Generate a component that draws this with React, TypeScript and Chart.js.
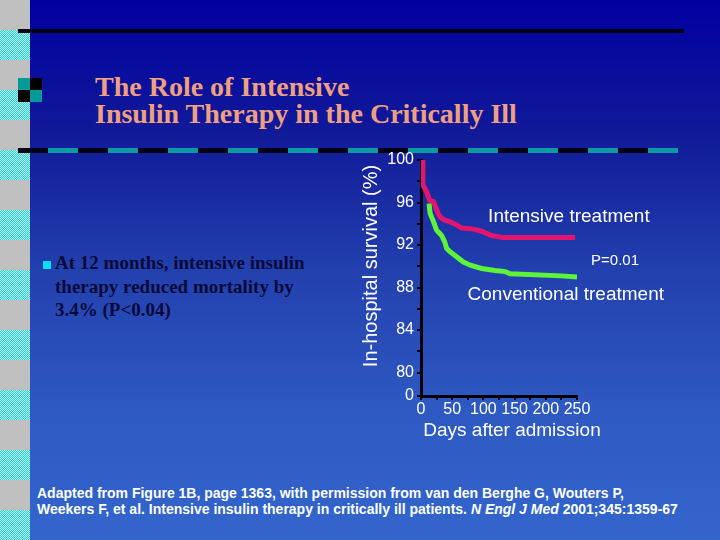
import React, { useEffect, useRef } from "react";
import { Chart, registerables } from "chart.js";

Chart.register(...registerables);

// ---- data ----
const intensiveDays = [2, 3, 9, 14, 20, 25, 30, 36, 46, 57, 65, 84, 97, 113, 132, 247];
const intensiveSurvival = [100, 97.65, 97.0, 96.2, 96.1, 95.3, 94.7, 94.4, 94.2, 93.9, 93.6, 93.5, 93.3, 92.9, 92.7, 92.7];
const conventionalDays = [13, 14.5, 20, 25, 33, 38, 41, 46, 57, 68, 79, 97, 119, 135, 143, 225, 250];
const conventionalSurvival = [95.9, 95.0, 94.2, 93.4, 92.9, 92.3, 91.7, 91.4, 90.9, 90.4, 90.1, 89.8, 89.6, 89.5, 89.3, 89.1, 89.0];

const yMajorTicks = [80, 84, 88, 92, 96, 100];
const yMinorTicks = [82, 86, 90, 94, 98];
const yBreakValue = 77.8; // position of the "0" label below the axis break
const yBreakLabel = "0";
const xTicks = [0, 50, 100, 150, 200, 250];
const xMinorTicks = [25, 75, 125, 175, 225];

const annotations = [
  { text: "Intensive treatment", day: 237, value: 94.7, size: 19 },
  { text: "P=0.01", day: 311, value: 90.5, size: 15 },
  { text: "Conventional treatment", day: 232, value: 87.3, size: 19 },
];
const xTitle = "Days after admission";
const yTitle = "In-hospital survival (%)";

const FONT = '"Liberation Sans", Arial, sans-serif';

const textPlugin = {
  id: "slideText",
  afterDraw(chart: any) {
    const { ctx, chartArea } = chart;
    const x = chart.scales.x;
    const y = chart.scales.y;
    ctx.save();
    ctx.fillStyle = "#ffffff";
    ctx.textAlign = "center";
    ctx.textBaseline = "middle";
    for (const a of annotations) {
      ctx.font = `${a.size}px ${FONT}`;
      ctx.fillText(a.text, x.getPixelForValue(a.day), y.getPixelForValue(a.value));
    }
    ctx.font = `19px ${FONT}`;
    ctx.fillText(xTitle, chartArea.left + 91, chartArea.bottom + 35);
    ctx.translate(chartArea.left - 50, chartArea.top + 106);
    ctx.rotate(-Math.PI / 2);
    ctx.font = `20px ${FONT}`;
    ctx.fillText(yTitle, 0, 0);
    ctx.restore();
  },
};

function SurvivalChart() {
  const ref = useRef<HTMLCanvasElement | null>(null);
  useEffect(() => {
    if (!ref.current) return;
    const chart = new Chart(ref.current, {
      type: "line",
      data: {
        datasets: [
          {
            label: "Intensive treatment",
            data: intensiveDays.map((d, i) => ({ x: d, y: intensiveSurvival[i] })),
            borderColor: "#e4156c",
            borderWidth: 5,
            pointRadius: 0,
            tension: 0,
            order: 0,
          },
          {
            label: "Conventional treatment",
            data: conventionalDays.map((d, i) => ({ x: d, y: conventionalSurvival[i] })),
            borderColor: "#5cf53a",
            borderWidth: 5,
            pointRadius: 0,
            tension: 0,
            order: 1,
          },
        ],
      },
      options: {
        animation: false,
        responsive: false,
        devicePixelRatio: 1,
        layout: { padding: { top: 20, right: 143, left: 0, bottom: 0 } },
        plugins: { legend: { display: false }, tooltip: { enabled: false } },
        scales: {
          x: {
            type: "linear",
            min: 0,
            max: 250,
            afterBuildTicks: (s: any) => {
              s.ticks = [...xTicks, ...xMinorTicks].sort((a, b) => a - b).map((v) => ({ value: v }));
            },
            afterFit: (s: any) => {
              s.height = 54;
            },
            ticks: {
              color: "#ffffff",
              font: { family: FONT, size: 16 },
              padding: 0,
              maxRotation: 0,
              autoSkip: false,
              callback: (v: any) => (xTicks.includes(Number(v)) ? String(v) : ""),
            },
            grid: { drawOnChartArea: false, color: "#000000", tickLength: 4, lineWidth: 2 },
            border: { color: "#000000", width: 3 },
          },
          y: {
            type: "linear",
            min: yBreakValue,
            max: 100,
            afterBuildTicks: (s: any) => {
              s.ticks = [yBreakValue, ...yMajorTicks, ...yMinorTicks].sort((a, b) => a - b).map((v) => ({ value: v }));
            },
            afterFit: (s: any) => {
              s.width = 81;
            },
            ticks: {
              color: "#ffffff",
              font: { family: FONT, size: 16 },
              padding: 3,
              autoSkip: false,
              callback: (v: any) => {
                const n = Number(v);
                if (n === yBreakValue) return yBreakLabel;
                return yMajorTicks.includes(n) ? String(n) : "";
              },
            },
            grid: { drawOnChartArea: false, color: "#000000", tickLength: 4, lineWidth: 2 },
            border: { color: "#000000", width: 3 },
          },
        },
      },
      plugins: [textPlugin],
    } as any);
    return () => chart.destroy();
  }, []);
  return (
    <canvas
      ref={ref}
      width={380}
      height={310}
      style={{ position: "absolute", left: 340, top: 140, width: 380, height: 310 }}
    />
  );
}

const stripBands = [0, 1, 2, 3, 4, 5, 6, 7, 8];
const dashSegments = Array.from({ length: 22 }, (_, i) => i);

export default function App() {
  return (
    <div
      style={{
        position: "fixed",
        left: 0,
        top: 0,
        width: 720,
        height: 540,
        overflow: "hidden",
        background:
          "linear-gradient(to bottom, #0000a0 0%, #111a98 25%, #2240ae 50%, #2e58c2 75%, #3366cc 100%)",
      }}
    >
      {/* left strip */}
      {stripBands.map((b) => (
        <React.Fragment key={b}>
          <div style={{ position: "absolute", left: 0, top: b * 60, width: 30, height: 30, background: "#c0c0c0" }} />
          <div
            style={{
              position: "absolute",
              left: 0,
              top: b * 60 + 30,
              width: 30,
              height: 30,
              backgroundImage: "repeating-conic-gradient(#33cccc 0 25%, #b0f4f4 0 50%)",
              backgroundSize: "2px 2px",
            }}
          />
        </React.Fragment>
      ))}
      {/* top rule */}
      <div style={{ position: "absolute", left: 18, top: 29, width: 666, height: 4, background: "#000010" }} />
      {/* icon */}
      <div style={{ position: "absolute", left: 18, top: 78, width: 12, height: 12, background: "#009a9a" }} />
      <div style={{ position: "absolute", left: 30, top: 78, width: 12, height: 12, background: "#000000" }} />
      <div style={{ position: "absolute", left: 18, top: 90, width: 12, height: 12, background: "#000000" }} />
      <div style={{ position: "absolute", left: 30, top: 90, width: 12, height: 12, background: "#009a9a" }} />
      {/* dashed rule */}
      {dashSegments.map((i) => (
        <div
          key={i}
          style={{
            position: "absolute",
            left: 18 + i * 30,
            top: 148,
            width: 30,
            height: 5,
            background: i % 2 === 0 ? "#000018" : "#0a9aa6",
          }}
        />
      ))}
      {/* title */}
      <div
        style={{
          position: "absolute",
          left: 95,
          top: 74,
          fontFamily: '"Liberation Serif", "Times New Roman", serif',
          fontWeight: "bold",
          fontSize: 28,
          lineHeight: "26.7px",
          color: "#f0a080",
          whiteSpace: "nowrap",
        }}
      >
        The Role of Intensive
        <br />
        Insulin Therapy in the Critically Ill
      </div>
      {/* bullet */}
      <div style={{ position: "absolute", left: 43, top: 261, width: 8, height: 8, background: "#00e0f0" }} />
      <div
        style={{
          position: "absolute",
          left: 55,
          top: 251,
          fontFamily: '"Liberation Serif", "Times New Roman", serif',
          fontWeight: "bold",
          fontSize: 19,
          lineHeight: "23.5px",
          color: "#0a0a38",
          whiteSpace: "nowrap",
        }}
      >
        At 12 months, intensive insulin
        <br />
        therapy reduced mortality by
        <br />
        3.4% (P&lt;0.04)
      </div>
      <SurvivalChart />
      {/* footer */}
      <div
        style={{
          position: "absolute",
          left: 37,
          top: 486,
          fontFamily: '"Liberation Sans", Arial, sans-serif',
          fontWeight: "bold",
          fontSize: 14,
          lineHeight: "15.7px",
          color: "#ffffff",
          whiteSpace: "nowrap",
        }}
      >
        Adapted from Figure 1B, page 1363, with permission from van den Berghe G, Wouters P,
        <br />
        Weekers F, et al. Intensive insulin therapy in critically ill patients. <i>N Engl J Med</i> 2001;345:1359-67
      </div>
    </div>
  );
}
